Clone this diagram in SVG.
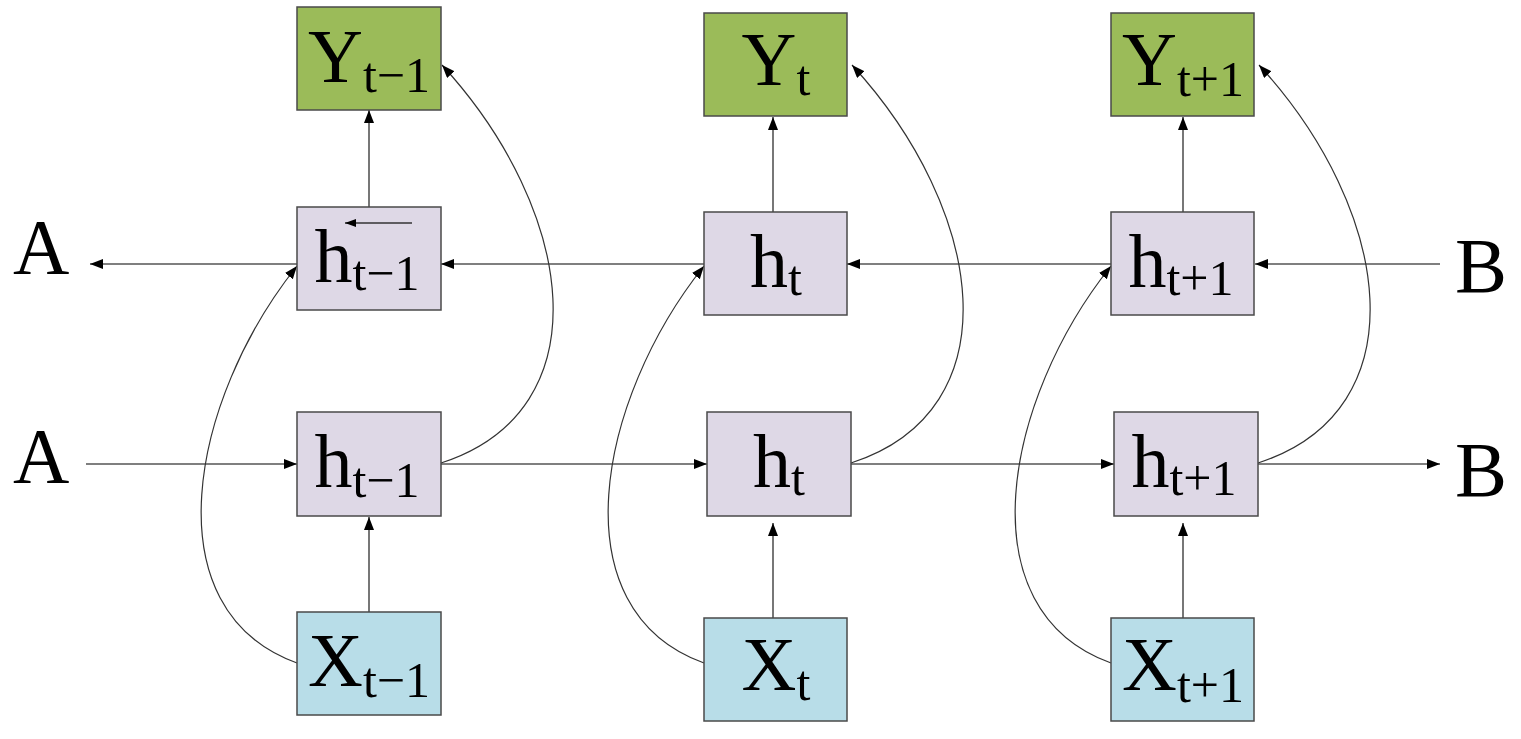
<svg xmlns="http://www.w3.org/2000/svg" width="1521" height="739" viewBox="0 0 1521 739">
<style>
.y{fill:#9BBB59;stroke:#4a4a4a;stroke-width:1.5}
.h{fill:#DED8E6;stroke:#4a4a4a;stroke-width:1.5}
.x{fill:#B8DDE8;stroke:#4a4a4a;stroke-width:1.5}
text{font-family:"Liberation Serif","Times New Roman",serif;fill:#000;font-size:76px}
.s{font-size:50px}
.lb{font-size:78px}
.ln{fill:none;stroke:#555;stroke-width:1.6;marker-end:url(#ar)}
.cv{fill:none;stroke:#333;stroke-width:1.2;marker-end:url(#ar)}
</style>
<defs>
<marker id="ar" markerUnits="userSpaceOnUse" markerWidth="14" markerHeight="12" refX="13" refY="5" orient="auto">
<path d="M0,0 L13,5 L0,10 z" fill="#000"/>
</marker>
<marker id="sa" markerUnits="userSpaceOnUse" markerWidth="12" markerHeight="10" refX="11" refY="4" orient="auto">
<path d="M0,0 L11,4 L0,8 z" fill="#000"/>
</marker>
</defs>
<rect width="1521" height="739" fill="#fff"/>
<g id="connectors">
<line class="ln" x1="1440" y1="264" x2="1255" y2="264"/>
<line class="ln" x1="1111" y1="264" x2="847" y2="264"/>
<line class="ln" x1="704" y1="264" x2="441" y2="264"/>
<line class="ln" x1="297" y1="264" x2="90" y2="264"/>
<line class="ln" x1="86" y1="464" x2="297" y2="464"/>
<line class="ln" x1="441" y1="464" x2="707" y2="464"/>
<line class="ln" x1="851" y1="464" x2="1114" y2="464"/>
<line class="ln" x1="1258" y1="464" x2="1440" y2="464"/>
<line class="ln" x1="369" y1="612" x2="369" y2="517"/>
<line class="ln" x1="773" y1="618" x2="773" y2="523"/>
<line class="ln" x1="1183" y1="618" x2="1183" y2="523"/>
<line class="ln" x1="369" y1="207" x2="369" y2="110"/>
<line class="ln" x1="773" y1="212" x2="773" y2="117"/>
<line class="ln" x1="1183" y1="212" x2="1183" y2="117"/>
<path class="cv" d="M297,663 C150,610 190,400 297,266"/>
<path class="cv" d="M704,663 C557,610 597,400 704,266"/>
<path class="cv" d="M1111,663 C964,610 1004,400 1111,266"/>
<path class="cv" d="M441,463 C605,410 575,210 442,65"/>
<path class="cv" d="M851,463 C1015,410 985,210 852,65"/>
<path class="cv" d="M1258,463 C1422,410 1392,210 1259,65"/>
</g>
<g id="A_top"><text class="lb" x="13" y="273">A</text></g>
<g id="A_bottom"><text class="lb" x="13" y="482">A</text></g>
<g id="B_top"><text class="lb" x="1455" y="292">B</text></g>
<g id="B_bottom"><text class="lb" x="1455" y="496">B</text></g>
<g id="Y_tm1"><rect class="y" x="297" y="7" width="144" height="103"/><text x="369" y="82" text-anchor="middle">Y<tspan class="s" dy="10">t−1</tspan></text></g>
<g id="Y_t"><rect class="y" x="704" y="13" width="143" height="103"/><text x="776" y="85" text-anchor="middle">Y<tspan class="s" dy="10">t</tspan></text></g>
<g id="Y_tp1"><rect class="y" x="1111" y="13" width="143" height="103"/><text x="1183" y="85" text-anchor="middle">Y<tspan class="s" dy="11">t+1</tspan></text></g>
<g id="hb_tm1"><rect class="h" x="297" y="207" width="144" height="103"/><text x="367" y="282" text-anchor="middle">h<tspan class="s" dy="8">t−1</tspan></text><line x1="412" y1="223" x2="345" y2="223" stroke="#333" stroke-width="1.5" marker-end="url(#sa)"/></g>
<g id="hb_t"><rect class="h" x="704" y="212" width="143" height="103"/><text x="776" y="287" text-anchor="middle">h<tspan class="s" dy="8">t</tspan></text></g>
<g id="hb_tp1"><rect class="h" x="1111" y="212" width="143" height="103"/><text x="1181" y="287" text-anchor="middle">h<tspan class="s" dy="8">t+1</tspan></text></g>
<g id="hf_tm1"><rect class="h" x="297" y="412" width="144" height="104"/><text x="367" y="487" text-anchor="middle">h<tspan class="s" dy="10">t−1</tspan></text></g>
<g id="hf_t"><rect class="h" x="707" y="412" width="144" height="104"/><text x="779" y="487" text-anchor="middle">h<tspan class="s" dy="8">t</tspan></text></g>
<g id="hf_tp1"><rect class="h" x="1114" y="412" width="144" height="104"/><text x="1184" y="487" text-anchor="middle">h<tspan class="s" dy="8">t+1</tspan></text></g>
<g id="X_tm1"><rect class="x" x="297" y="612" width="144" height="103"/><text x="369" y="686" text-anchor="middle">X<tspan class="s" dy="11">t−1</tspan></text></g>
<g id="X_t"><rect class="x" x="704" y="618" width="143" height="103"/><text x="776" y="690" text-anchor="middle">X<tspan class="s" dy="10">t</tspan></text></g>
<g id="X_tp1"><rect class="x" x="1111" y="618" width="143" height="103"/><text x="1183" y="690" text-anchor="middle">X<tspan class="s" dy="12">t+1</tspan></text></g>
</svg>
